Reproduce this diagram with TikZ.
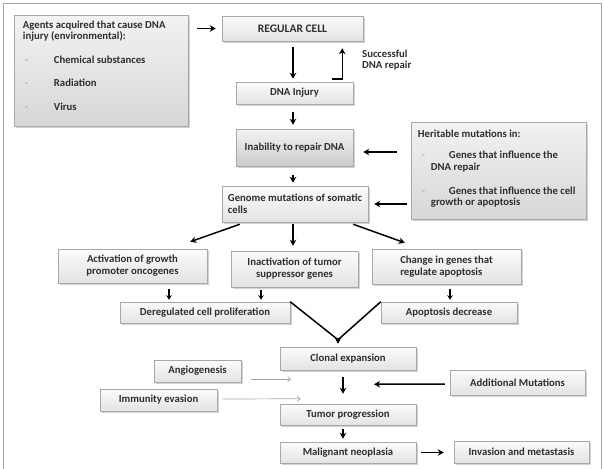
\documentclass[tikz,border=0pt]{standalone}
\usepackage{fontspec}
\setmainfont{Carlito}
\usetikzlibrary{shadows,calc,arrows.meta}
\definecolor{txt}{HTML}{2E2E2E}
\definecolor{edge}{HTML}{A8A8A8}
\tikzset{
  box/.style={draw=edge, line width=0.5pt, top color=gray!3, bottom color=gray!22,
    drop shadow={shadow xshift=1.5pt, shadow yshift=-1.5pt, opacity=0.35, fill=gray},
    inner sep=2pt, align=center, text=txt},
  darkbox/.style={box, top color=gray!10, bottom color=gray!40},
  sidebox/.style={box, top color=gray!10, bottom color=gray!32},
  plain/.style={inner sep=0pt, text=txt, align=left},
  arr/.style={draw=black, line width=1.5pt, -{Stealth[length=6pt,width=6.5pt]}},
  smallarr/.style={draw=black, line width=1.2pt, -{Stealth[length=4.5pt,width=5.5pt]}},
  thinarr/.style={draw=gray!70, line width=0.7pt, -{Straight Barb[length=3pt,width=5pt]}},
  vline/.style={draw=black, line width=1.5pt},
}
\begin{document}
\begin{tikzpicture}[x=1pt, y=-1pt, font=\bfseries\fontsize{10.7}{12}\selectfont]
\useasboundingbox (0,0) rectangle (603,469);
\draw[gray!70, line width=0.8pt] (3,469) -- (3,3) -- (601,3) -- (601,469);

% boxes
\node[sidebox, minimum width=174, minimum height=111] (agents) at (101,71) {};
\node[plain, anchor=north west] (agentstxt) at ($(agents.north west)+(9,6)$)
  {Agents acquired that cause DNA\\[-1pt] injury (environmental):\\[12pt]
   \makebox[31pt][l]{\hspace*{2pt}\textcolor{gray!60}{-}}Chemical substances\\[11pt]
   \makebox[31pt][l]{\hspace*{2pt}\textcolor{gray!60}{-}}Radiation\\[12pt]
   \makebox[31pt][l]{\hspace*{2pt}\textcolor{gray!60}{-}}Virus};

\node[box, minimum width=141, minimum height=25] (regular) at (292.5,28.5) {\fontsize{11.5}{12}\selectfont REGULAR CELL};
\node[box, minimum width=117, minimum height=22] (dnainj) at (294.5,93) {DNA Injury};
\node[darkbox, minimum width=117, minimum height=37] (inability) at (294.5,147.5) {Inability to repair DNA};
\node[box, minimum width=146, minimum height=36, align=left] (genome) at (295,204) {Genome mutations of somatic\\cells};

\node[sidebox, minimum width=175, minimum height=97] (heritable) at (498.5,170.5) {};
\node[plain, anchor=north west] (heritabletxt) at ($(heritable.north west)+(7,8)$)
  {Heritable mutations in:\\[9pt]
   \makebox[31pt][l]{\hspace*{4pt}\textcolor{gray!60}{-}}Genes that influence the\\
   \hspace*{13pt}DNA repair\\[12pt]
   \makebox[31pt][l]{\hspace*{4pt}\textcolor{gray!60}{-}}Genes that influence the cell\\[-1pt]
   \hspace*{13pt}growth or apoptosis};

\node[box, minimum width=149, minimum height=34] (activation) at (132.5,266) {Activation of growth\\promoter oncogenes};
\node[box, minimum width=127, minimum height=36] (inactivation) at (294.5,269) {Inactivation of tumor\\suppressor genes};
\node[box, minimum width=149, minimum height=35, align=left] (change) at (446.5,266.5) {Change in genes that\\regulate apoptosis};

\node[box, minimum width=170, minimum height=21] (dereg) at (205,312.5) {Deregulated cell proliferation};
\node[box, minimum width=136, minimum height=21] (apopdec) at (449,312.5) {Apoptosis decrease};

\node[box, minimum width=136, minimum height=23] (clonal) at (348,358.5) {Clonal expansion};
\node[box, minimum width=87, minimum height=22] (angio) at (197.5,371) {Angiogenesis};
\node[box, minimum width=117, minimum height=22] (immun) at (158.5,400) {Immunity evasion};
\node[box, minimum width=135, minimum height=25] (addmut) at (517.5,382.5) {Additional Mutations};
\node[box, minimum width=136, minimum height=21] (tumor) at (348,414.5) {Tumor progression};
\node[box, minimum width=136, minimum height=21] (malignant) at (348,452.5) {Malignant neoplasia};
\node[box, minimum width=135, minimum height=22] (invasion) at (521.5,452) {Invasion and metastasis};

\node[plain, anchor=west] (replabel) at (362,60) {Successful\\[-1pt]DNA repair};

% connectors
\draw[arr, shorten <=9pt, shorten >=6pt] (agents.east |- regular.west) -- (regular.west);
\draw[arr, shorten <=6pt, shorten >=3pt] ($(regular.south)+(0.5,0)$) -- ($(dnainj.north)+(-1.5,0)$);
\draw[arr] ($(dnainj.north east)+(-21,-3)$) -- ++(10,0) -- ($(regular.south east)+(-21,7)$);
\draw[arr, shorten <=8pt, shorten >=4pt] ($(dnainj.south)+(-1.5,0)$) -- ($(inability.north)+(-1.5,0)$);
\draw[arr, shorten <=9pt, shorten >=3pt] ($(inability.south)+(-1.5,0)$) -- ($(genome.north)+(-2,0)$);
\draw[arr] ($(heritable.west)+(-14,-18.5)$) -- ($(inability.east)+(10,4.5)$);
\draw[arr] ($(heritable.west)+(-4,33.5)$) -- ($(genome.east)+(6,0)$);

\draw[arr] ($(genome.south west)+(18,2)$) -- ($(activation.north east)+(-17,-7)$);
\draw[arr, shorten <=2pt, shorten >=5pt] ($(genome.south)+(-2,0)$) -- ($(inactivation.north)+(-1.5,0)$);
\draw[arr] ($(genome.south east)+(-15,2)$) -- ($(change.north west)+(33,-6)$);

\draw[smallarr] ($(activation.south)+(36.5,6)$) -- ($(dereg.north)+(-36,-2)$);
\draw[smallarr] ($(inactivation.south)+(-33.5,3)$) -- ($(dereg.north)+(56,-2)$);
\draw[smallarr] ($(change.south)+(3.5,5)$) -- ($(apopdec.north)+(1,-2)$);

\coordinate (vtip) at ($(clonal.north)+(-10,-7)$);
\draw[vline] (dereg.north east) -- (vtip);
\draw[vline] (apopdec.north west) -- (vtip);
\draw[arr] ($(vtip)+(0,-2)$) -- ($(vtip)+(0,4)$);

\draw[arr, shorten <=7pt, shorten >=10pt] ($(clonal.south)+(-5,0)$) -- ($(tumor.north)+(-5,0)$);
\draw[arr] ($(addmut.west)+(-5,1.5)$) -- ($(clonal.south)+(26,14)$);
\draw[thinarr] ($(angio.east)+(10,8)$) -- ++(40,0);
\draw[thinarr] ($(immun.east)+(5,-1)$) -- ($(tumor.north west)+(21,-5)$);
\draw[arr, shorten <=4pt, shorten >=3pt] ($(tumor.south)+(-5,0)$) -- ($(malignant.north)+(-5,0)$);
\draw[arr, shorten <=5pt, shorten >=10pt] (malignant.east) -- (malignant.east -| invasion.west);
\end{tikzpicture}
\end{document}
